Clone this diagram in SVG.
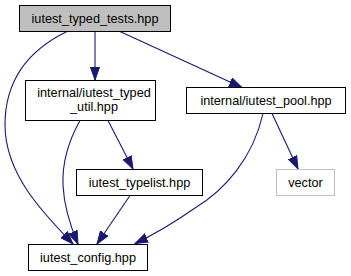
<svg xmlns="http://www.w3.org/2000/svg" width="351" height="276" viewBox="0 0 351 276">
  <defs>
    <style>
      .node rect { fill: #ffffff; stroke: #000000; stroke-width: 1; }
      .node.root rect { fill: #bfbfbf; }
      .node.ext rect { stroke: #bfbfbf; }
      .node text { font-family: "Liberation Sans", Arial, sans-serif; font-size: 12.7px; fill: #000000; text-anchor: middle; }
      .edge { fill: none; stroke: #191970; stroke-width: 1.1; marker-end: url(#arrow); }
    </style>
    <marker id="arrow" markerUnits="userSpaceOnUse" markerWidth="14" markerHeight="10" viewBox="0 -5 14 10" refX="13" refY="0" orient="auto">
      <path d="M0,-4.6 L13,0 L0,4.6 Z" fill="#191970" stroke="#191970" stroke-width="1"/>
    </marker>
  </defs>

  <g id="edges">
    <path class="edge" d="M95,31.5 L95,80"/>
    <path class="edge" d="M120,31.5 L242,87.5"/>
    <path class="edge" d="M67,31.5 C35,47 5,75 5,125 C5,175 45,215 73,244"/>
    <path class="edge" d="M80,120.5 C68,142 62,162 63,185 C64,208 72,230 78,244"/>
    <path class="edge" d="M108,120.5 L133,169"/>
    <path class="edge" d="M130,195.5 L97,244"/>
    <path class="edge" d="M263,113.5 C253,158 225,190 195,208 C175,222 155,234 135,243.5"/>
    <path class="edge" d="M272,113.5 L298,169"/>
  </g>

  <g id="node-iutest_typed_tests" class="node root">
    <rect x="19.5" y="5.5" width="151" height="26"/>
    <text x="95" y="23">iutest_typed_tests.hpp</text>
  </g>

  <g id="node-iutest_typed_util" class="node">
    <rect x="25.5" y="80.5" width="130" height="40"/>
    <text x="94" y="97">internal/iutest_typed</text>
    <text x="94" y="111">_util.hpp</text>
  </g>

  <g id="node-iutest_pool" class="node">
    <rect x="186.5" y="87.5" width="159" height="26"/>
    <text x="266" y="105">internal/iutest_pool.hpp</text>
  </g>

  <g id="node-iutest_typelist" class="node">
    <rect x="76.5" y="169.5" width="126" height="26"/>
    <text x="139.5" y="187">iutest_typelist.hpp</text>
  </g>

  <g id="node-vector" class="node ext">
    <rect x="276.5" y="169.5" width="58" height="26"/>
    <text x="305.5" y="187">vector</text>
  </g>

  <g id="node-iutest_config" class="node">
    <rect x="28.5" y="244.5" width="119" height="26"/>
    <text x="88" y="262">iutest_config.hpp</text>
  </g>
</svg>
